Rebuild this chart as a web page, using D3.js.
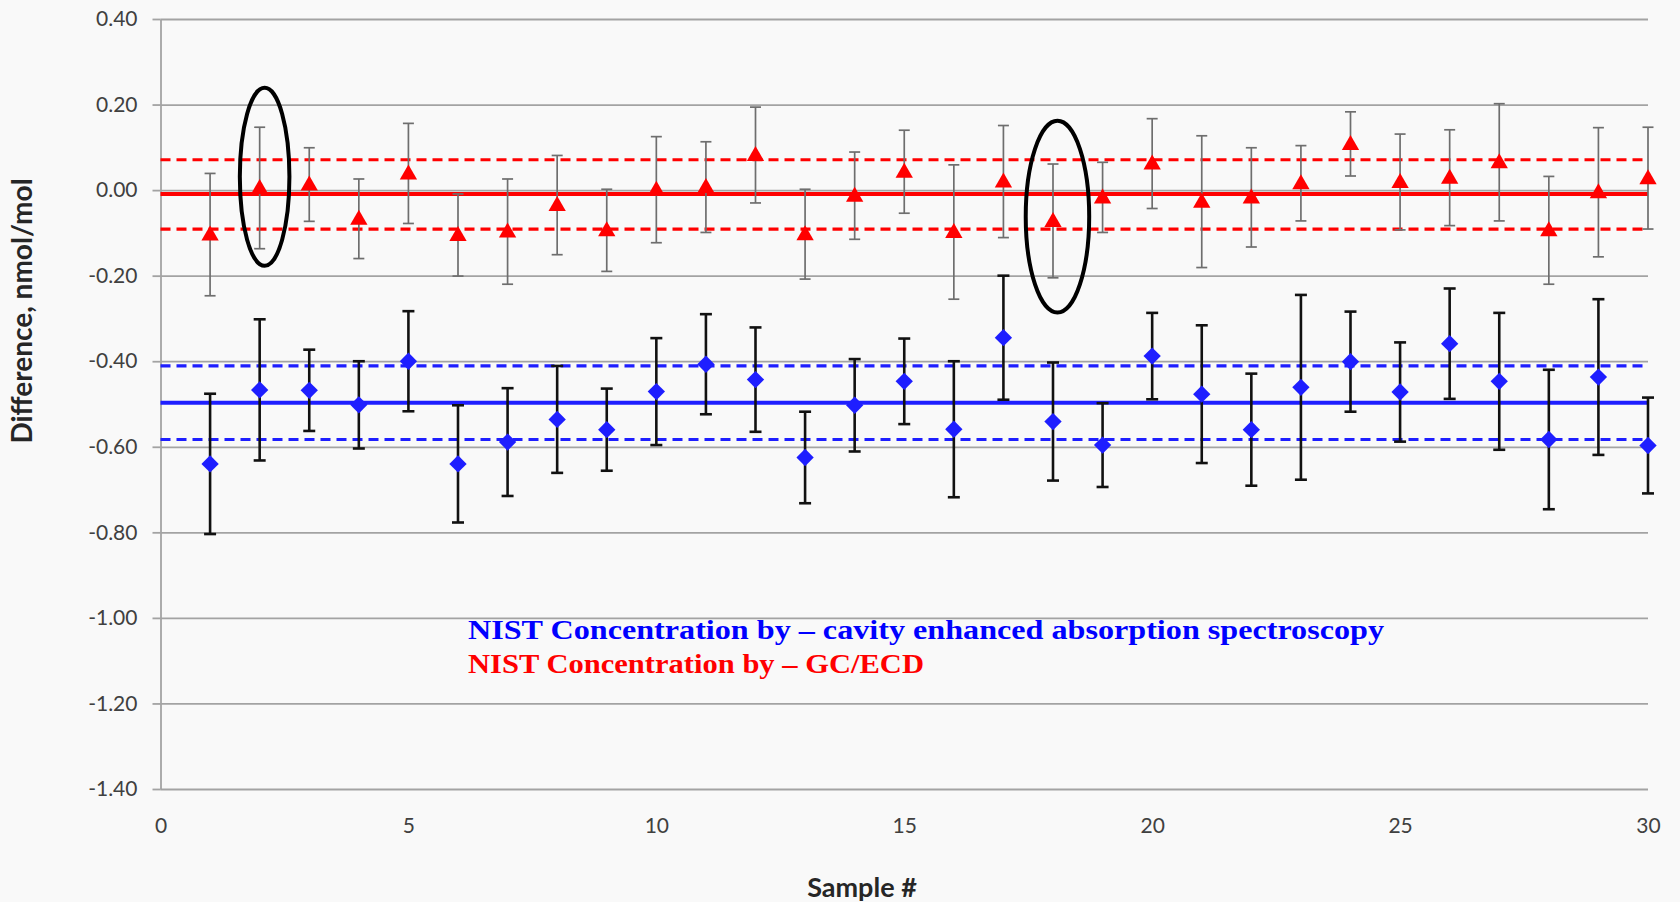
<!DOCTYPE html>
<html>
<head>
<meta charset="utf-8">
<script src="https://cdn.jsdelivr.net/npm/d3@7"></script>
<style>
  html, body { margin: 0; padding: 0; background: #f9f9f9; }
  svg { display: block; }
</style>
</head>
<body>
<div id="graph"></div>
<script>
// sample numbers along the x axis
var samples = [1, 2, 3, 4, 5, 6, 7, 8, 9, 10, 11, 12, 13, 14, 15,
               16, 17, 18, 19, 20, 21, 22, 23, 24, 25, 26, 27, 28, 29, 30];

// GC/ECD differences (red triangles) and their error bars
var gcValues = [-0.104, 0.005, 0.013, -0.067, 0.039, -0.105, -0.097, -0.035, -0.094, 0.001,
                0.007, 0.082, -0.103, -0.013, 0.043, -0.098, 0.020, -0.072, -0.017, 0.062,
                -0.027, -0.017, 0.016, 0.108, 0.019, 0.029, 0.065, -0.094, -0.005, 0.028];
var gcErrors = [0.143, 0.142, 0.086, 0.093, 0.117, 0.096, 0.123, 0.116, 0.096, 0.124,
                0.106, 0.112, 0.105, 0.102, 0.097, 0.157, 0.131, 0.133, 0.082, 0.105,
                0.154, 0.116, 0.088, 0.075, 0.112, 0.112, 0.137, 0.126, 0.151, 0.119];

// cavity enhanced absorption spectroscopy differences (blue diamonds)
var ceasValues = [-0.640, -0.467, -0.468, -0.502, -0.400, -0.640, -0.589, -0.536, -0.560, -0.471,
                  -0.407, -0.443, -0.625, -0.503, -0.447, -0.559, -0.345, -0.541, -0.596, -0.388,
                  -0.477, -0.560, -0.461, -0.401, -0.472, -0.359, -0.447, -0.583, -0.437, -0.597];
var ceasErrors = [0.164, 0.165, 0.095, 0.102, 0.117, 0.137, 0.126, 0.125, 0.096, 0.125,
                  0.117, 0.122, 0.107, 0.108, 0.100, 0.159, 0.145, 0.138, 0.098, 0.101,
                  0.161, 0.131, 0.216, 0.117, 0.116, 0.129, 0.160, 0.163, 0.182, 0.112];

// mean and band lines
var gcMean = -0.009, gcBand = [0.071, -0.091];
var ceasMean = -0.497, ceasBand = [-0.411, -0.583];

// circled points (centre in data units, radii in data units)
var circled = [{sample: 2.1, value: 0.031, rx: 0.5, ry: 0.208},
               {sample: 18.09, value: -0.062, rx: 0.64, ry: 0.224}];

// axis ticks
var xTicks = [0, 5, 10, 15, 20, 25, 30];
var yTicks = [0.4, 0.2, 0, -0.2, -0.4, -0.6, -0.8, -1.0, -1.2, -1.4];

var legendLines = ["NIST Concentration by \u2013 cavity enhanced absorption spectroscopy",
                   "NIST Concentration by \u2013 GC/ECD"];

var w = 1680, h = 902;
var vis = d3.select("#graph").append("svg").attr("width", w).attr("height", h);
vis.append("rect").attr("width", w).attr("height", h).attr("fill", "#f9f9f9");

var x = d3.scaleLinear().domain([0, 30]).range([160.5, 1648]);
var y = d3.scaleLinear().domain([-1.4, 0.4]).range([789, 19]);

var tickFont = "Lato, 'Open Sans', sans-serif";

// horizontal gridlines
var grid = vis.append("g").attr("transform", "translate(" + x(0) + ",0)")
  .call(d3.axisLeft(y).tickValues(yTicks).tickSize(-(x(30) - x(0))).tickFormat(""));
grid.select(".domain").remove();
grid.selectAll("line").attr("stroke", "#a3a3a3").attr("stroke-width", 1.8);

// y axis with labels
var yAxis = vis.append("g").attr("transform", "translate(" + x(0) + ",0)")
  .call(d3.axisLeft(y).tickValues(yTicks).tickSize(8).tickPadding(15).tickSizeOuter(0)
    .tickFormat(d => d.toFixed(2)));
yAxis.select(".domain").attr("stroke", "#a3a3a3").attr("stroke-width", 1.8);
yAxis.selectAll("line").attr("stroke", "#a3a3a3").attr("stroke-width", 1.8);
yAxis.selectAll("text").attr("fill", "#404040").style("font-family", tickFont).style("font-size", "21px");

// x axis labels
var xAxis = vis.append("g").attr("transform", "translate(0," + y(-1.4) + ")")
  .call(d3.axisBottom(x).tickValues(xTicks).tickSize(0).tickPadding(29));
xAxis.select(".domain").remove();
xAxis.selectAll("text").attr("fill", "#404040").style("font-family", tickFont).style("font-size", "21px");

// axis titles
vis.append("text")
  .attr("transform", "translate(32,311) rotate(-90)")
  .attr("text-anchor", "middle")
  .style("font-family", tickFont).style("font-size", "28px").style("font-weight", "bold")
  .attr("fill", "#262626")
  .text("Difference, nmol/mol");

vis.append("text")
  .attr("x", 862).attr("y", 897)
  .attr("text-anchor", "middle")
  .style("font-family", tickFont).style("font-size", "27px").style("font-weight", "bold")
  .attr("fill", "#262626")
  .text("Sample #");

// mean and band lines
function hline(v, color, width, dash) {
  vis.append("line")
    .attr("x1", x(0)).attr("x2", x(30))
    .attr("y1", y(v)).attr("y2", y(v))
    .attr("stroke", color).attr("stroke-width", width)
    .attr("stroke-dasharray", dash);
}
hline(gcMean, "#ff0000", 4, null);
gcBand.forEach(v => hline(v, "#ff0000", 3.2, "10,6"));
hline(ceasMean, "#1e1eff", 4, null);
ceasBand.forEach(v => hline(v, "#1e1eff", 3.2, "10,6"));

// error bars
function errorBars(vals, errs, color, width, cap) {
  var g = vis.append("g");
  samples.forEach(function(s, i) {
    var top = y(vals[i] + errs[i]), bot = y(vals[i] - errs[i]), cx = x(s);
    g.append("line").attr("x1", cx).attr("x2", cx).attr("y1", top).attr("y2", bot)
      .attr("stroke", color).attr("stroke-width", width);
    [top, bot].forEach(function(yy) {
      g.append("line").attr("x1", cx - cap).attr("x2", cx + cap).attr("y1", yy).attr("y2", yy)
        .attr("stroke", color).attr("stroke-width", width);
    });
  });
}
errorBars(gcValues, gcErrors, "#6e6e6e", 1.7, 5.5);
errorBars(ceasValues, ceasErrors, "#111111", 2.6, 6);

// markers
vis.selectAll("path.gc")
  .data(samples)
  .enter()
  .append("path")
  .attr("class", "gc")
  .attr("d", d3.symbol().type(d3.symbolTriangle).size(130))
  .attr("transform", (d, i) => "translate(" + x(d) + "," + (y(gcValues[i]) + 1) + ")")
  .attr("fill", "#ff0000");

vis.selectAll("path.ceas")
  .data(samples)
  .enter()
  .append("path")
  .attr("class", "ceas")
  .attr("d", d3.symbol().type(d3.symbolSquare).size(150))
  .attr("transform", (d, i) => "translate(" + x(d) + "," + y(ceasValues[i]) + ") rotate(45)")
  .attr("fill", "#1e1eff");

// circled outliers
vis.selectAll("ellipse.mark")
  .data(circled)
  .enter()
  .append("ellipse")
  .attr("class", "mark")
  .attr("cx", d => x(d.sample))
  .attr("cy", d => y(d.value))
  .attr("rx", d => x(d.rx) - x(0))
  .attr("ry", d => y(0) - y(d.ry))
  .attr("fill", "none")
  .attr("stroke", "#000")
  .attr("stroke-width", 4);

// legend text
var legendColors = ["#0000ff", "#ff0000"];
var legendWidths = [916, 456];
vis.selectAll("text.legend")
  .data(legendLines)
  .enter()
  .append("text")
  .attr("class", "legend")
  .attr("x", 468)
  .attr("y", (d, i) => 639 + i * 34)
  .attr("textLength", (d, i) => legendWidths[i])
  .attr("lengthAdjust", "spacingAndGlyphs")
  .style("font-family", "'Liberation Serif', serif")
  .style("font-size", "28px")
  .style("font-weight", "bold")
  .attr("fill", (d, i) => legendColors[i])
  .text(d => d);
</script>
</body>
</html>
